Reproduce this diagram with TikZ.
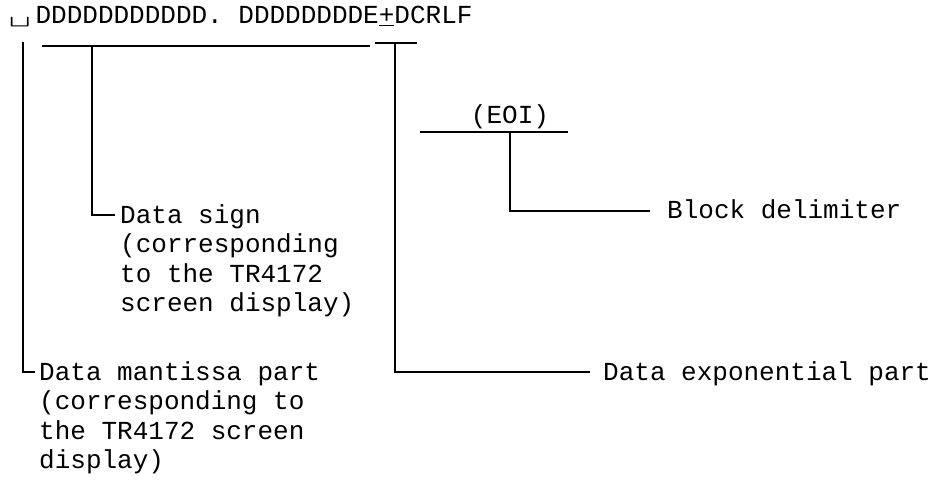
\documentclass[tikz,border=0pt]{standalone}
\usepackage{fontspec}
\usepackage{graphicx}
\usepackage{tikz}
\usetikzlibrary{positioning}
\newfontfamily\typefont{Liberation Mono}

\begin{document}
\begin{tikzpicture}[x=1pt,y=-1pt,
  lbl/.style={inner sep=0pt,align=left,font=\typefont\fontsize{26}{29.5}\selectfont},
  brk/.style={line width=1.4pt}]
  \useasboundingbox (0,0) rectangle (943,487);
  % the transmitted string
  \node[lbl,anchor=base west] (digits) at (9,24) {\scalebox{1.6}[1]{\ttfamily ␣}\kern5pt DDDDDDDDDDD. DDDDDDDDE\underline{+}DCRLF};
  \node[lbl,anchor=base] (eoi) at (510,123) {(EOI)};
  % brackets under the string
  \coordinate (mantL) at (42,46);
  \coordinate (mantR) at (370,46);
  \coordinate (signtop) at (92,46);
  \coordinate (signend) at (115,215);
  \coordinate (leftop) at (23,42);
  \coordinate (leftend) at (35,372);
  \coordinate (exL) at (375,43);
  \coordinate (exR) at (417,43);
  \coordinate (extop) at (395,43);
  \coordinate (exend) at (590,372);
  \coordinate (eoiL) at (420,132);
  \coordinate (eoiR) at (568,132);
  \coordinate (eoitop) at (510,132);
  \coordinate (eoiend) at (650,211);
  % labels (base = last line)
  \node[lbl,anchor=base west] (signtxt) at (120,311.5) {Data sign\\(corresponding\\to the TR4172\\screen display)};
  \node[lbl,anchor=base west] (manttxt) at (39,468.5) {Data mantissa part\\(corresponding to\\the TR4172 screen\\display)};
  \node[lbl,anchor=base west] (exptxt) at (603,380) {Data exponential part};
  \node[lbl,anchor=base west] (delimtxt) at (667,218) {Block delimiter};
  \draw[brk] (mantL) -- (mantR);
  \draw[brk] (signtop) |- (signend);
  \draw[brk] (leftop) |- (leftend);
  \draw[brk] (exL) -- (exR);
  \draw[brk] (extop) |- (exend);
  \draw[brk] (eoiL) -- (eoiR);
  \draw[brk] (eoitop) |- (eoiend);
\end{tikzpicture}
\end{document}
